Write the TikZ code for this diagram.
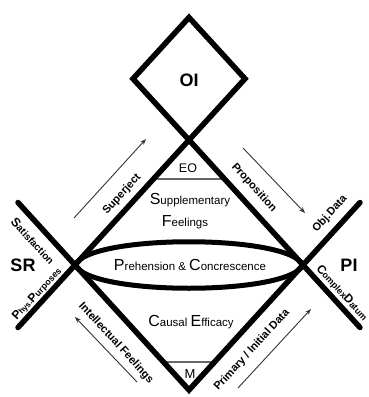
\documentclass[tikz,border=0pt]{standalone}
\usepackage{fontspec}
\setmainfont{Liberation Sans}
\usetikzlibrary{arrows.meta}
% text at a given size, used for the enlarged initials
\newcommand\fsz[2]{{\fontsize{#1}{#1}\selectfont #2}}

\begin{document}
\begin{tikzpicture}[x=1pt,y=-1pt,
  heavy/.style={line width=5.5pt, line cap=round, line join=miter, draw=black},
  lens/.style={line width=5pt, draw=black},
  rulebar/.style={line width=1.8pt, draw=black!60},
  flowarrow/.style={line width=0.9pt, draw=black!80, -{Stealth[length=6pt,width=4.5pt]}},
  lbl/.style={inner sep=0pt, text=black, font=\bfseries\fontsize{11}{11}\selectfont},
  inner/.style={inner sep=0pt, text=black, font=\fontsize{11.5}{12}\selectfont},
  pole/.style={inner sep=0pt, text=black, font=\bfseries\fontsize{18}{18}\selectfont}
]
\useasboundingbox (0,0) rectangle (369,397);

% main vertices
\coordinate (T)   at (189,140);
\coordinate (B)   at (189,390);
\coordinate (SRv) at (75,265);
\coordinate (PIv) at (303,265);
% upper diamond
\coordinate (OIt) at (189,17.5);
\coordinate (OIl) at (133,78.75);
\coordinate (OIr) at (245,78.75);
% free ends of the crossing lines
\coordinate (endLL) at (18,327.5);
\coordinate (endUL) at (18,202.5);
\coordinate (endLR) at (360,327.5);
\coordinate (endUR) at (360,202.5);
% horizontal bars
\coordinate (EOa) at (153,179);
\coordinate (EOb) at (225,179);
\coordinate (Ma)  at (163.5,362);
\coordinate (Mb)  at (214.5,362);
% arrow ends
\coordinate (a1s) at (74,218);   \coordinate (a1e) at (146,139);
\coordinate (a2s) at (243,148);  \coordinate (a2e) at (305,213);
\coordinate (a3s) at (137,382);  \coordinate (a3e) at (75,317);
\coordinate (a4s) at (238,388);  \coordinate (a4e) at (311,309);

% bars
\draw[rulebar] (EOa) -- (EOb);
\draw[rulebar] (Ma) -- (Mb);

% heavy frame
\draw[heavy] (OIt) -- (OIr) -- (T) -- (OIl) -- cycle;
\draw[heavy] (T) -- (PIv) -- (B) -- (SRv) -- cycle;
\draw[heavy] (SRv) -- (endLL);
\draw[heavy] (SRv) -- (endUL);
\draw[heavy] (PIv) -- (endLR);
\draw[heavy] (PIv) -- (endUR);

% central lens
\draw[lens] (SRv) .. controls +(15,-31) and +(-15,-31) .. (PIv)
                  .. controls +(-15,31) and +(15,31) .. (SRv) -- cycle;

% arrows
\draw[flowarrow] (a1s) -- (a1e);
\draw[flowarrow] (a2s) -- (a2e);
\draw[flowarrow] (a3s) -- (a3e);
\draw[flowarrow] (a4s) -- (a4e);

% pole labels
\node[pole] (oi) at (189,80) {OI};
\node[pole] (sr) at (23,265) {SR};
\node[pole] (pi) at (349,265) {PI};

% inner labels
\node[inner, font=\fontsize{12.5}{13}\selectfont] (eo) at (188,168) {EO};
\node[inner, font=\fontsize{13}{13}\selectfont] (m) at (190,374) {M};
\node[inner] (supp) at (190,200) {\fsz{16}{S}upplementary};
\node[inner] (feel) at (185,222) {\fsz{16}{F}eelings};
\node[inner] (preh) at (190,265) {\fsz{16}{P}rehension \& \fsz{16}{C}oncrescence};
\node[inner] (caus) at (191,322) {\fsz{16}{C}ausal \fsz{16}{E}fficacy};

% side labels
\node[lbl, rotate=47.6]  (superject) at (122,194) {Superject};
\node[lbl, rotate=-47.6] (prop) at (254,188) {Proposition};
\node[lbl, rotate=47.6]  (objd) at (330,214) {Obj.Data};
\node[lbl, rotate=-47.6] (satis) at (33,241) {\fsz{12.5}{S}\fsz{10}{atisfaction}};
\node[lbl, rotate=47.6]  (phys) at (37,294) {\fsz{12}{P}\fsz{8}{hys.}\fsz{12}{P}\fsz{9}{urposes}};
\node[lbl, rotate=-47.6] (cdat) at (342,293) {\fsz{12}{C}\fsz{9}{omplex}\fsz{12}{D}\fsz{9}{atum}};
\node[lbl, rotate=-47.6] (intel) at (116,343) {Intellectual Feelings};
\node[lbl, rotate=47.6]  (prim) at (252,350) {Primary / Initial Data};
\end{tikzpicture}
\end{document}
